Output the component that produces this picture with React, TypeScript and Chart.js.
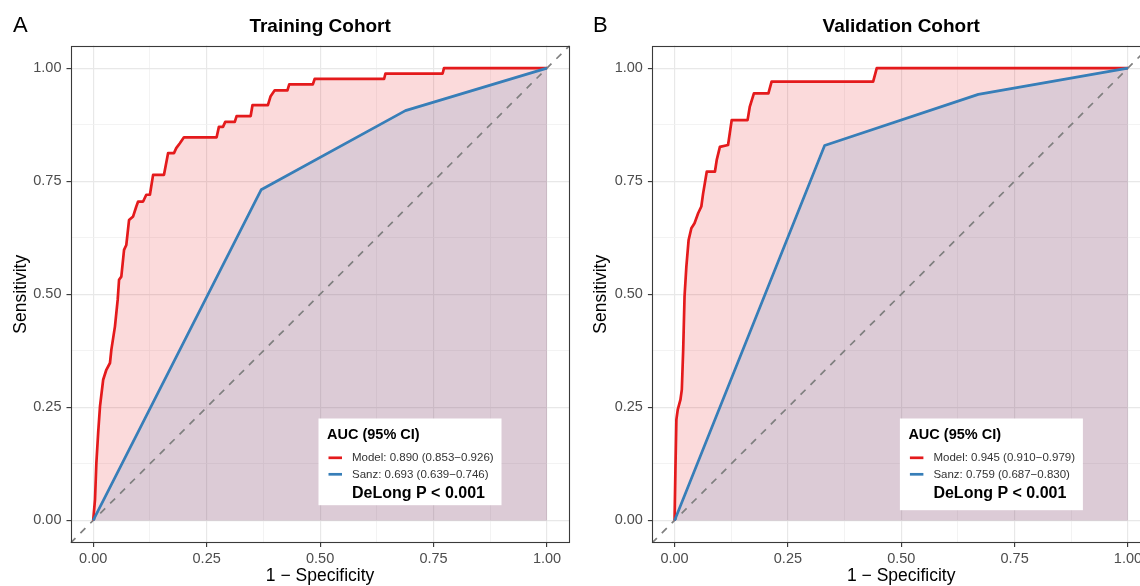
import React, { useEffect, useRef } from 'react';
import { Chart, registerables } from 'chart.js';

Chart.register(...registerables);

const FONT = "'Liberation Sans', Arial, Helvetica, sans-serif";
Chart.defaults.font.family = FONT;

// ---- axis ticks ----
const majorTicks = [0, 0.25, 0.5, 0.75, 1];
const minorTicks = [0.125, 0.375, 0.625, 0.875];
const axisLimits = [-0.05, 1.05];

// ---- Training cohort ----
const trainModelFpr = [
  0, 0.004, 0.007, 0.011, 0.015, 0.022, 0.029, 0.037, 0.040, 0.048, 0.054, 0.057, 0.062, 0.068,
  0.073, 0.079, 0.088, 0.095, 0.099, 0.110, 0.117, 0.125, 0.132, 0.156, 0.165, 0.178, 0.183,
  0.191, 0.200, 0.272, 0.277, 0.286, 0.291, 0.312, 0.316, 0.347, 0.351, 0.385, 0.391, 0.400,
  0.428, 0.432, 0.484, 0.488, 0.641, 0.644, 0.770, 0.773, 1,
];
const trainModelTpr = [
  0, 0.046, 0.127, 0.194, 0.252, 0.311, 0.333, 0.348, 0.377, 0.429, 0.488, 0.532, 0.539, 0.598,
  0.609, 0.664, 0.672, 0.694, 0.705, 0.705, 0.720, 0.720, 0.764, 0.764, 0.812, 0.812, 0.823,
  0.834, 0.847, 0.847, 0.870, 0.870, 0.881, 0.881, 0.894, 0.894, 0.918, 0.918, 0.938, 0.951,
  0.951, 0.964, 0.964, 0.976, 0.976, 0.988, 0.988, 1, 1,
];
const trainSanzFpr = [0, 0.370, 0.688, 1];
const trainSanzTpr = [0, 0.731, 0.906, 1];

// ---- Validation cohort ----
const validModelFpr = [
  0, 0.002, 0.004, 0.007, 0.013, 0.016, 0.019, 0.022, 0.026, 0.031, 0.037, 0.044, 0.052, 0.059,
  0.063, 0.071, 0.089, 0.093, 0.100, 0.118, 0.126, 0.161, 0.166, 0.175, 0.207, 0.214, 0.438,
  0.446, 1,
];
const validModelTpr = [
  0, 0.120, 0.223, 0.245, 0.267, 0.289, 0.377, 0.495, 0.561, 0.620, 0.646, 0.657, 0.679, 0.694,
  0.723, 0.771, 0.771, 0.797, 0.826, 0.830, 0.885, 0.885, 0.915, 0.944, 0.944, 0.970, 0.970,
  1, 1,
];
const validSanzFpr = [0, 0.331, 0.670, 1];
const validSanzTpr = [0, 0.829, 0.942, 1];

// ---- texts ----
const panelLetters = ['A', 'B'];
const panelTitles = ['Training Cohort', 'Validation Cohort'];
const modelLabels = ['Model: 0.890 (0.853\u22120.926)', 'Model: 0.945 (0.910\u22120.979)'];
const sanzLabels = ['Sanz: 0.693 (0.639\u22120.746)', 'Sanz: 0.759 (0.687\u22120.830)'];
const legendTitle = 'AUC (95% CI)';
const pValueText = 'DeLong P < 0.001';
const xTitle = '1 \u2212 Specificity';
const yTitle = 'Sensitivity';

const MODEL_COLOR = '#E41A1C';
const SANZ_COLOR = '#377EB8';

const allTicks = [...majorTicks, ...minorTicks].sort((a, b) => a - b);
const isMajor = (v: number | undefined) =>
  v !== undefined && majorTicks.some((m) => Math.abs(m - v) < 1e-9);
const toPoints = (xs: number[], ys: number[]) => xs.map((x, i) => ({ x, y: ys[i] }));

const decorPlugin = {
  id: 'decor',
  afterDraw(chart: any, _args: any, opts: any) {
    const { ctx, chartArea: ca } = chart;
    ctx.save();
    // panel frame
    const l = Math.round(ca.left) + 0.5;
    const t = Math.round(ca.top) + 0.5;
    const r = Math.round(ca.right) - 0.5;
    const b = Math.round(ca.bottom) - 0.5;
    ctx.strokeStyle = '#3a3a3a';
    ctx.lineWidth = 1.1;
    ctx.strokeRect(l, t, r - l, b - t);

    // letter + title
    ctx.fillStyle = '#000';
    ctx.textBaseline = 'alphabetic';
    ctx.textAlign = 'left';
    ctx.font = `22px ${FONT}`;
    ctx.fillText(opts.letter, 13, 32);
    ctx.textAlign = 'center';
    ctx.font = `bold 19px ${FONT}`;
    ctx.fillText(opts.title, (ca.left + ca.right) / 2, 32);

    // legend box
    const bx = ca.left + 248;
    const by = ca.top + 373;
    const bw = 183;
    const bh = opts.boxH;
    ctx.fillStyle = '#ffffff';
    ctx.fillRect(bx, by, bw, bh);

    ctx.textAlign = 'left';
    ctx.textBaseline = 'middle';
    ctx.fillStyle = '#000';
    ctx.font = `bold 14.5px ${FONT}`;
    ctx.fillText(legendTitle, bx + 8.5, by + 16);

    ctx.lineWidth = 2.7;
    ctx.lineCap = 'butt';
    ctx.strokeStyle = MODEL_COLOR;
    ctx.beginPath();
    ctx.moveTo(bx + 10, by + 39.3);
    ctx.lineTo(bx + 23.5, by + 39.3);
    ctx.stroke();
    ctx.strokeStyle = SANZ_COLOR;
    ctx.beginPath();
    ctx.moveTo(bx + 10, by + 55.8);
    ctx.lineTo(bx + 23.5, by + 55.8);
    ctx.stroke();

    ctx.fillStyle = '#333333';
    ctx.font = `11.5px ${FONT}`;
    ctx.fillText(opts.model, bx + 33.5, by + 39.5);
    ctx.fillText(opts.sanz, bx + 33.5, by + 56);

    ctx.fillStyle = '#000';
    ctx.font = `bold 16px ${FONT}`;
    ctx.fillText(pValueText, bx + 33.5, by + 75);
    ctx.restore();
  },
};

function makeScale(axis: 'x' | 'y', fitSize: number) {
  return {
    type: 'linear' as const,
    min: axisLimits[0],
    max: axisLimits[1],
    afterBuildTicks: (s: any) => {
      s.ticks = allTicks.map((v) => ({ value: v }));
    },
    afterFit: (s: any) => {
      if (axis === 'y') s.width = fitSize;
      else s.height = fitSize;
    },
    border: { display: false },
    grid: {
      color: (c: any) => (isMajor(c.tick?.value) ? '#e8e8e8' : '#f0f0f0'),
      lineWidth: (c: any) => (isMajor(c.tick?.value) ? 1.2 : 0.8),
      tickLength: 4,
      tickWidth: 1.1,
      tickColor: (c: any) => (isMajor(c.tick?.value) ? '#333333' : 'rgba(0,0,0,0)'),
    },
    ticks: {
      autoSkip: false,
      maxRotation: 0,
      minRotation: 0,
      padding: axis === 'y' ? 5 : 3,
      color: '#4d4d4d',
      font: { size: 14.5, family: FONT },
      callback: (v: any) => (isMajor(Number(v)) ? Number(v).toFixed(2) : ''),
    },
    title: {
      display: true,
      text: axis === 'y' ? yTitle : xTitle,
      color: '#000',
      font: { size: 17.5, family: FONT, lineHeight: axis === 'y' ? 1.2 : 1.1 },
      padding: axis === 'y' ? { top: 11, bottom: 0 } : { top: 0, bottom: 0 },
    },
  };
}

type PanelProps = {
  idx: number;
  left: number;
  yAxisWidth: number;
  rightPad: number;
  boxH: number;
  modelFpr: number[];
  modelTpr: number[];
  sanzFpr: number[];
  sanzTpr: number[];
};

function RocPanel(p: PanelProps) {
  const ref = useRef<HTMLCanvasElement>(null);
  useEffect(() => {
    if (!ref.current) return;
    const chart = new Chart(ref.current, {
      type: 'line',
      data: {
        datasets: [
          {
            label: 'Sanz',
            data: toPoints(p.sanzFpr, p.sanzTpr),
            borderColor: SANZ_COLOR,
            backgroundColor: 'rgba(55,126,184,0.16)',
            fill: 'origin',
            borderWidth: 2.7,
            pointRadius: 0,
            tension: 0,
            borderJoinStyle: 'round',
          },
          {
            label: 'Model',
            data: toPoints(p.modelFpr, p.modelTpr),
            borderColor: MODEL_COLOR,
            backgroundColor: 'rgba(228,26,28,0.16)',
            fill: 'origin',
            borderWidth: 2.7,
            pointRadius: 0,
            tension: 0,
            borderJoinStyle: 'round',
          },
          {
            label: 'Reference',
            data: toPoints(axisLimits, axisLimits),
            borderColor: '#7f7f7f',
            borderDash: [7, 7],
            borderWidth: 1.7,
            fill: false,
            pointRadius: 0,
          },
        ],
      },
      options: {
        animation: false,
        responsive: false,
        devicePixelRatio: 1,
        events: [],
        layout: { padding: { left: 0, top: 45.5, right: p.rightPad, bottom: 0 } },
        scales: {
          x: makeScale('x', 43) as any,
          y: makeScale('y', p.yAxisWidth) as any,
        },
        plugins: {
          legend: { display: false },
          tooltip: { enabled: false },
          title: { display: false },
          filler: { drawTime: 'beforeDatasetsDraw' },
          decor: {
            letter: panelLetters[p.idx],
            title: panelTitles[p.idx],
            model: modelLabels[p.idx],
            sanz: sanzLabels[p.idx],
            boxH: p.boxH,
          },
        } as any,
      },
      plugins: [decorPlugin],
    });
    return () => chart.destroy();
  }, []);
  return (
    <canvas
      ref={ref}
      width={580}
      height={586}
      style={{ position: 'absolute', left: p.left, top: 0, width: 580, height: 586 }}
    />
  );
}

export default function App() {
  return (
    <div
      style={{
        position: 'fixed',
        left: 0,
        top: 0,
        width: 1140,
        height: 586,
        overflow: 'hidden',
        background: '#ffffff',
      }}
    >
      <RocPanel
        idx={0}
        left={0}
        yAxisWidth={70.5}
        rightPad={10.3}
        boxH={86.7}
        modelFpr={trainModelFpr}
        modelTpr={trainModelTpr}
        sanzFpr={trainSanzFpr}
        sanzTpr={trainSanzTpr}
      />
      <RocPanel
        idx={1}
        left={580}
        yAxisWidth={71.9}
        rightPad={9.4}
        boxH={91.7}
        modelFpr={validModelFpr}
        modelTpr={validModelTpr}
        sanzFpr={validSanzFpr}
        sanzTpr={validSanzTpr}
      />
    </div>
  );
}
